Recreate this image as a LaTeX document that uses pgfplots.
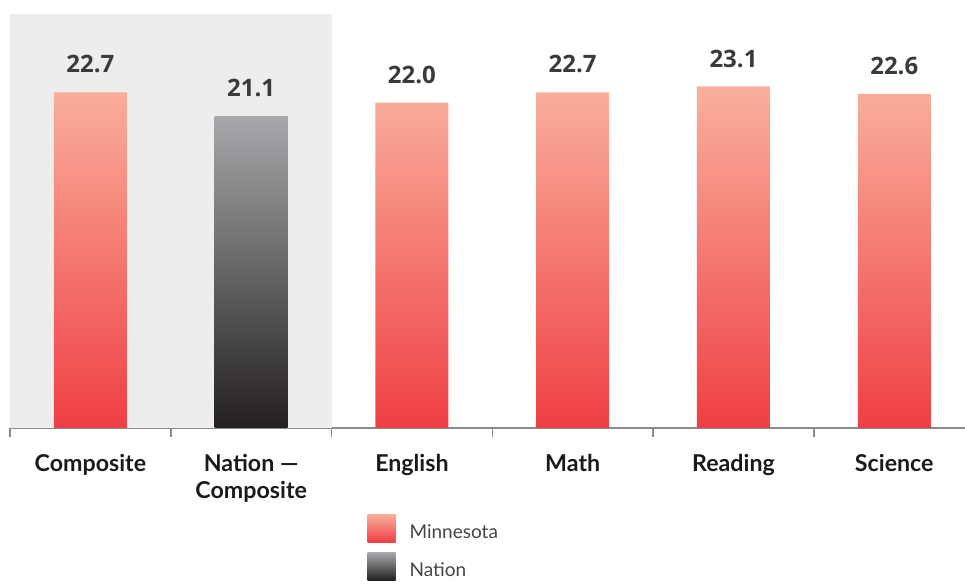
\documentclass[border=0pt]{standalone}
\usepackage{fontspec}
\usepackage{pgfplots}
\pgfplotsset{compat=1.18}
\setmainfont{Lato}
\newfontfamily\catfont{Lato}
\newfontfamily\valfont{Open Sans}
\definecolor{mnTop}{HTML}{F9B09C}
\definecolor{mnBot}{HTML}{EF3F45}
\definecolor{naTop}{HTML}{A7A8AB}
\definecolor{naBot}{HTML}{231F20}
\definecolor{bgGray}{HTML}{EDEDED}
\definecolor{axGray}{HTML}{8A8A8A}
\definecolor{valGray}{HTML}{3A3A3A}
\definecolor{catBlack}{HTML}{1A1A1A}
\definecolor{legGray}{HTML}{444444}
\begin{document}
\begin{tikzpicture}
\begin{axis}[
  at={(5pt,79.5pt)}, anchor=south west,
  scale only axis, width=477.5pt, height=207pt,
  xmin=-0.5, xmax=5.44, ymin=0, ymax=28,
  axis x line*=bottom, axis y line=none,
  x axis line style={draw=axGray, line width=0.8pt, -},
  xtick={0,1,2,3,4,5},
  xticklabels={Composite,{Nation —\\Composite},English,Math,Reading,Science},
  major tick length=0pt,
  minor xtick={-0.5,0.5,1.5,2.5,3.5,4.5},
  minor tick length=4.5pt,
  tick align=outside,
  minor tick style={draw=axGray, line width=0.8pt},
  xticklabel style={font=\catfont\bfseries\fontsize{11.6}{13.5}\selectfont, text=catBlack, align=center, anchor=north, yshift=-9.5pt},
  ybar, bar width=0.454,
  nodes near coords={\valfont\bfseries\pgfmathprintnumber[fixed,fixed zerofill,precision=1,assume math mode=true]{\pgfplotspointmeta}},
  point meta=y,
  nodes near coords style={font=\valfont\bfseries\fontsize{12}{14}\selectfont, text=valGray, yshift=6pt},
  legend cell align=left,
  legend style={draw=none, fill=none, at={(0.374,-0.207)}, anchor=north west,
    font=\fontsize{9.5}{11}\selectfont, text=legGray, row sep=3.5pt, inner sep=0pt},
  clip=false,
]
\fill[bgGray] (axis cs:-0.5,0) rectangle (axis cs:1.5,28);
\addplot[bar shift=0pt, draw=none, top color=mnTop, bottom color=mnBot,
  legend image code/.code={\path (0pt,0pt) -- (19pt,0pt); \shade[top color=mnTop, bottom color=mnBot] (0pt,-4.5pt) rectangle (14pt,9.5pt);}]
  coordinates {(0,22.7) (2,22.0) (3,22.7) (4,23.1) (5,22.6)};
\addlegendentry{Minnesota}
\addplot[bar shift=0pt, draw=none, top color=naTop, bottom color=naBot,
  legend image code/.code={\path (0pt,0pt) -- (19pt,0pt); \shade[top color=naTop, bottom color=naBot] (0pt,-4.5pt) rectangle (14pt,9.5pt);}]
  coordinates {(1,21.1)};
\addlegendentry{Nation}
\end{axis}
\pgfresetboundingbox
\path[use as bounding box] (0,0) rectangle (482.5pt,293.5pt);
\end{tikzpicture}
\end{document}
